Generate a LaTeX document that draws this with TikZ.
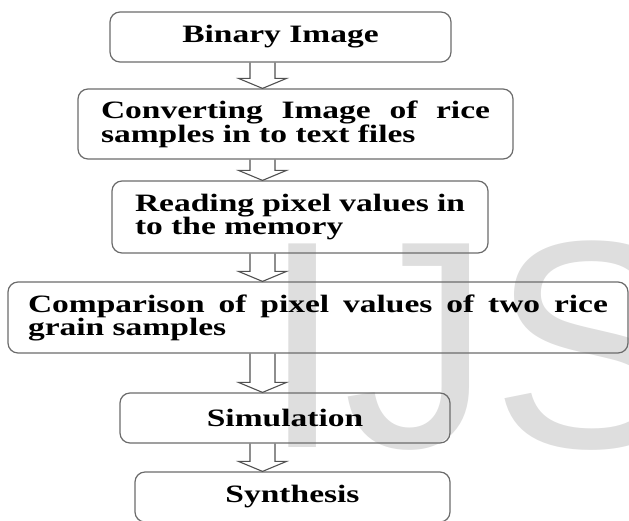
\documentclass[tikz,border=0pt]{standalone}
\usepackage{fontspec}
\usepackage{tikz}
\usetikzlibrary{shapes, arrows.meta, positioning, calc}
\newfontfamily\boxfont[FakeStretch=1.34]{Liberation Serif}
\newfontfamily\wmfont{Liberation Sans}
\tikzstyle{block}=[draw=black!58,line width=1.2pt,rounded corners=10pt,rectangle,inner sep=0pt,
  font=\boxfont\bfseries\fontsize{25}{23}\selectfont]
\tikzstyle{fat}=[draw=black!68,line width=1.1pt,line join=miter,
  to path={($(\tikztostart)+(-12.5,0)$) -- ($(\tikztotarget)+(-12.5,-10)$)
    -- ($(\tikztotarget)+(-24,-10)$) -- (\tikztotarget) -- ($(\tikztotarget)+(24,-10)$)
    -- ($(\tikztotarget)+(12.5,-10)$) -- ($(\tikztostart)+(12.5,0)$)}]

\begin{document}
\begin{tikzpicture}[x=1pt,y=-1pt]
  \useasboundingbox (0,0) rectangle (629,520);
  \node[anchor=base west,inner sep=0pt,text=black!13,font=\wmfont\fontsize{296}{296}\selectfont] (wm) at (261,447) {IJS};
  \node[block, minimum width=341pt, minimum height=50pt] (bin) at (280.5,37) {Binary Image};
  \node[block, below of=bin, node distance=87pt, xshift=15pt, minimum width=435pt, minimum height=70pt,
    text width=389pt, align=justify] (conv) {Converting Image of rice\linebreak samples in to text files};
  \node[block, below of=conv, node distance=93pt, xshift=4.5pt, minimum width=376pt, minimum height=72pt,
    text width=330pt, align=justify] (read) {Reading pixel values in\linebreak to the memory};
  \node[block, below of=read, node distance=100.5pt, xshift=18pt, minimum width=620pt, minimum height=71pt,
    text width=580pt, align=justify] (comp) {Comparison of pixel values of two rice\linebreak grain samples};
  \node[block, below of=comp, node distance=100.5pt, xshift=-33pt, minimum width=330pt, minimum height=50pt] (sim) {Simulation};
  \node[block, below of=sim, node distance=79pt, xshift=7.5pt, minimum width=315pt, minimum height=50pt] (syn) {Synthesis};
  \coordinate (ax) at (262.5,0);
  \draw[fat] (ax |- bin.south) to (ax |- conv.north);
  \draw[fat] (ax |- conv.south) to (ax |- read.north);
  \draw[fat] (ax |- read.south) to (ax |- comp.north);
  \draw[fat] (ax |- comp.south) to (ax |- sim.north);
  \draw[fat] (ax |- sim.south) to (ax |- syn.north);
\end{tikzpicture}
\end{document}
